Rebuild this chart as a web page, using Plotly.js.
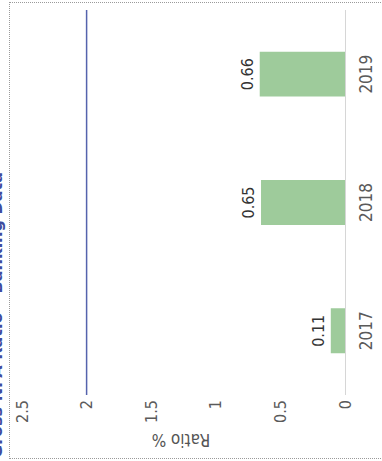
<!DOCTYPE html>
<html>
<head>
<meta charset="utf-8">
<script src="https://cdn.plot.ly/plotly-3.0.1.min.js"></script>
<style>
  html, body { margin: 0; padding: 0; width: 382px; height: 461px; overflow: hidden; background: #fff; }
  /* the chart is laid out landscape and turned a quarter turn anticlockwise */
  #frame {
    position: absolute; left: 0; top: 0; width: 461px; height: 382px;
    transform-origin: 0 0;
    transform: translateY(461px) rotate(-90deg);
    background: #fff;
  }
  #chart { position: absolute; left: 0; top: 0; width: 461px; height: 382px; }
  #border {
    position: absolute; left: 2px; top: 9px; width: 455px; height: 400px;
    border: 1px dotted #9a9a9a; pointer-events: none;
  }
</style>
</head>
<body>
<div id="frame">
  <div id="chart"></div>
  <div id="border"></div>
</div>
<script>
// Yearly ratio values
const years = ['2017', '2018', '2019'];
const ratios = [0.11, 0.65, 0.66];
const ratioLabels = ['0.11', '0.65', '0.66'];
// Benchmark level
const benchmark = [2];
// Value axis ticks
const tickValues = [0, 0.5, 1, 1.5, 2, 2.5];
const tickLabels = ['0', '0.5', '1', '1.5', '2', '2.5'];

const FONT = 'Liberation Sans Narrow, DejaVu Sans Condensed, sans-serif';

const bars = {
  type: 'bar',
  x: years,
  y: ratios,
  text: ratioLabels,
  textposition: 'outside',
  textfont: { family: FONT, size: 16, color: '#333333' },
  cliponaxis: false,
  marker: { color: '#9ecb9b' },
  hoverinfo: 'x+y'
};

const layout = {
  width: 461,
  height: 382,
  margin: { l: 66, r: 10, t: 22, b: 37 },
  paper_bgcolor: 'rgba(0,0,0,0)',
  plot_bgcolor: 'rgba(0,0,0,0)',
  showlegend: false,
  bargap: 0.65,
  font: { family: FONT, size: 15, color: '#555555' },
  xaxis: {
    type: 'category',
    showgrid: false,
    showline: true,
    linecolor: '#d6d6d6',
    linewidth: 1,
    ticks: '',
    ticklabelstandoff: 6,
    tickfont: { family: FONT, size: 17, color: '#5a5a5a' }
  },
  yaxis: {
    range: [0, 2.5],
    tickvals: tickValues,
    ticktext: tickLabels,
    showgrid: false,
    zeroline: false,
    showline: false,
    ticks: '',
    ticklabelstandoff: 4,
    tickfont: { family: FONT, size: 16, color: '#5a5a5a' }
  },
  shapes: [{
    type: 'line',
    xref: 'paper', x0: 0, x1: 1,
    yref: 'y', y0: benchmark[0], y1: benchmark[0],
    line: { color: '#5563ad', width: 1.5 }
  }],
  annotations: [
    {
      text: 'Ratio %',
      xref: 'paper', yref: 'paper',
      x: -0.117, y: 0.51,
      xanchor: 'center', yanchor: 'middle',
      textangle: -90,
      showarrow: false,
      font: { family: FONT, size: 17, color: '#555555' }
    },
    {
      text: '<b>Gross NPA Ratio – Banking Data</b>',
      xref: 'paper', yref: 'paper',
      x: 0.584, y: 1.043,
      xanchor: 'right', yanchor: 'bottom',
      showarrow: false,
      font: { family: 'DejaVu Sans, sans-serif', size: 16, color: '#3d4c9e' }
    }
  ]
};

Plotly.newPlot('chart', [bars], layout, { displayModeBar: false, staticPlot: true });
</script>
</body>
</html>
